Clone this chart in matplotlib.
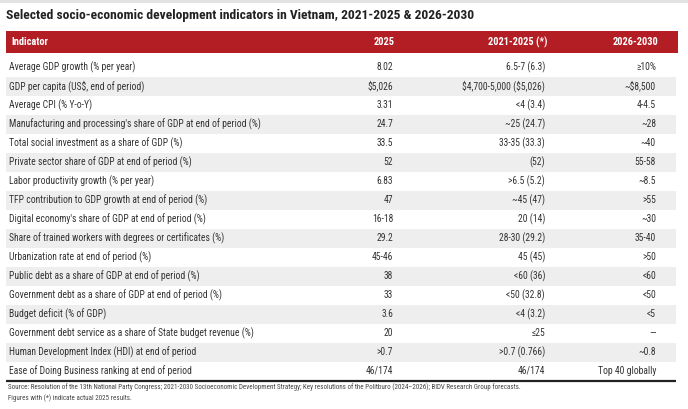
import matplotlib
matplotlib.use("Agg")
import matplotlib.pyplot as plt
from matplotlib import font_manager as fm
from matplotlib.patches import Rectangle

title = "Selected socio-economic development indicators in Vietnam, 2021-2025 & 2026-2030"
headers = ["Indicator", "2025", "2021-2025 (*)", "2026-2030"]
indicators = [
    "Average GDP growth (% per year)",
    "GDP per capita (US$, end of period)",
    "Average CPI (% Y-o-Y)",
    "Manufacturing and processing's share of GDP at end of period (%)",
    "Total social investment as a share of GDP (%)",
    "Private sector share of GDP at end of period (%)",
    "Labor productivity growth (% per year)",
    "TFP contribution to GDP growth at end of period (%)",
    "Digital economy's share of GDP at end of period (%)",
    "Share of trained workers with degrees or certificates (%)",
    "Urbanization rate at end of period (%)",
    "Public debt as a share of GDP at end of period (%)",
    "Government debt as a share of GDP at end of period (%)",
    "Budget deficit (% of GDP)",
    "Government debt service as a share of State budget revenue (%)",
    "Human Development Index (HDI) at end of period",
    "Ease of Doing Business ranking at end of period",
]
values_2025 = ["8.02", "$5,026", "3.31", "24.7", "33.5", "52", "6.83", "47", "16-18",
               "29.2", "45-46", "38", "33", "3.6", "20", ">0.7", "46/174"]
values_2021_2025 = ["6.5-7 (6.3)", "$4,700-5,000 ($5,026)", "<4 (3.4)", "~25 (24.7)",
                    "33-35 (33.3)", "(52)", ">6.5 (5.2)", "~45 (47)", "20 (14)",
                    "28-30 (29.2)", "45 (45)", "<60 (36)", "<50 (32.8)", "<4 (3.2)",
                    "\u226425", ">0.7 (0.766)", "46/174"]
values_2026_2030 = ["\u226510%", "~$8,500", "4-4.5", "~28", "~40", "55-58", "~8.5", ">55",
                    "~30", "35-40", ">50", "<60", "<50", "<5", "\u2014", "~0.8",
                    "Top 40 globally"]
source = ("Source: Resolution of the 13th National Party Congress; 2021-2030 Socioeconomic "
          "Development Strategy; Key resolutions of the Politburo (2024\u20132026); "
          "BIDV Research Group forecasts.")
note = "Figures with (*) indicate actual 2025 results."

# ---- font choice: prefer a condensed face ----
avail = {f.name for f in fm.fontManager.ttflist}
font = "DejaVu Sans"
for cand in ["Roboto Condensed", "Liberation Sans Narrow", "DejaVu Sans Condensed",
             "Open Sans Condensed", "Noto Sans Condensed", "Roboto"]:
    if cand in avail:
        font = cand
        break
plt.rcParams["font.family"] = [font, "DejaVu Sans"]
plt.rcParams["text.parse_math"] = False

W, H = 688, 409
fig = plt.figure(figsize=(W / 100, H / 100), dpi=100)
ax = fig.add_axes([0, 0, 1, 1])
ax.set_xlim(0, W)
ax.set_ylim(H, 0)
ax.axis("off")
renderer = fig.canvas.get_renderer()


def fit(txt, target_w, weight="normal"):
    t = ax.text(0, 0, txt, fontsize=10, fontweight=weight)
    w = t.get_window_extent(renderer).width
    t.remove()
    return 10 * target_w / w

TEXT = "#333333"
RED = "#B31E24"
BAND = "#EFEEEE"

left, right = 6, 677
col_right = [None, 393, 545, 656]
top0, row_h = 57.5, 19.0

# top thin grey strip
ax.add_patch(Rectangle((0, 0), W, 2.5, color="#E2E2E2", lw=0))

ax.text(6, 15, title, fontsize=fit(title, 467, "bold"), fontweight="bold",
        color="#222222", va="center", ha="left")

# header
ax.add_patch(Rectangle((left, 30.5), right - left + 1, 22.5, color=RED, lw=0))
hsize = fit("2021-2025 (*)", 60, "bold")
for j, h in enumerate(headers):
    if j == 0:
        ax.text(11, 42, h, color="white", fontsize=hsize, fontweight="bold",
                va="center", ha="left")
    else:
        ax.text(col_right[j] + 2, 42, h, color="white", fontsize=hsize,
                fontweight="bold", va="center", ha="right")

bsize = fit(indicators[3], 250)
cols = [values_2025, values_2021_2025, values_2026_2030]
for i, name in enumerate(indicators):
    yc = top0 + (i + 0.5) * row_h
    if i % 2 == 1:
        ax.add_patch(Rectangle((left, top0 + i * row_h), right - 1 - left, row_h,
                               color=BAND, lw=0))
    ax.text(9, yc, name, fontsize=bsize, color=TEXT, va="center", ha="left")
    for j, col in enumerate(cols, start=1):
        ax.text(col_right[j], yc, col[i], fontsize=bsize, color=TEXT,
                va="center", ha="right")

ybot = top0 + len(indicators) * row_h
ax.plot([left, right - 1], [ybot, ybot], color="#222222", lw=1.6,
        solid_capstyle="butt")

fsize = fit(source, 512)
ax.text(8, ybot + 7, source, fontsize=fsize, color="#444444", va="center", ha="left")
ax.text(8, ybot + 18, note, fontsize=fsize, color="#444444", va="center", ha="left")

fig.savefig("out.png", dpi=100)
